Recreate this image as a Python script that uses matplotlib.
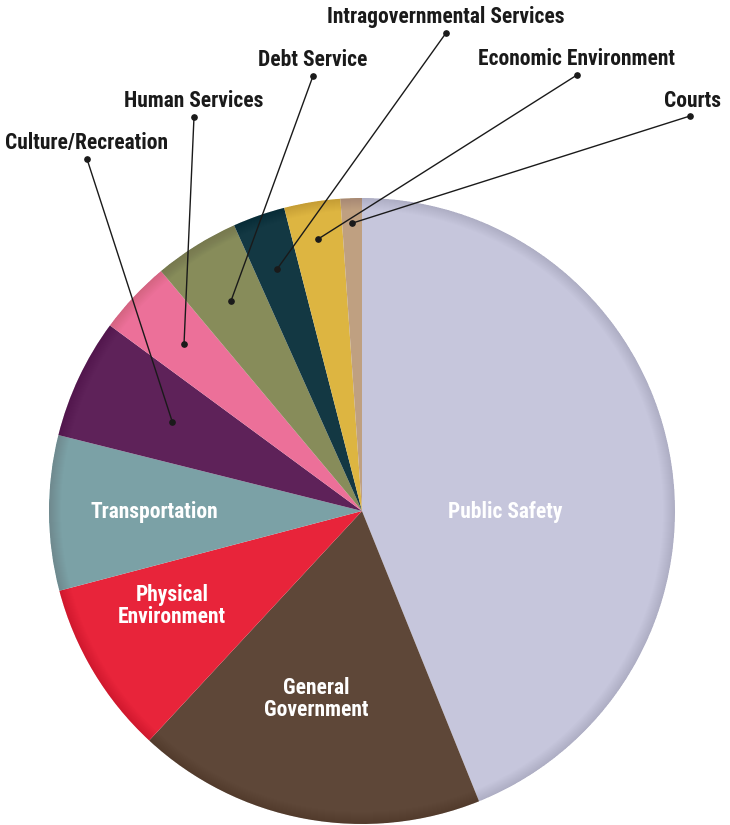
import matplotlib.pyplot as plt
import numpy as np
from matplotlib.patches import Wedge

plt.rcParams['font.family'] = ['Roboto Condensed', 'DejaVu Sans']

# Data (shares of spending, clockwise from 12 o'clock)
categories = ["Public Safety", "General Government", "Physical Environment", "Transportation",
              "Culture/Recreation", "Human Services", "Debt Service",
              "Intragovernmental Services", "Economic Environment", "Courts"]
shares = [43.9, 18.0, 9.0, 8.0, 6.2, 3.8, 4.4, 2.7, 2.9, 1.1]
colors = ["#C6C6DC", "#5E4738", "#E8243A", "#7BA1A6", "#5E2259",
          "#EC7099", "#878C5A", "#133843", "#DDB541", "#BFA081"]

# inside labels
inner_labels = {"Public Safety": "Public Safety",
                "General Government": "General\nGovernment",
                "Physical Environment": "Physical\nEnvironment",
                "Transportation": "Transportation"}

# outside labels: text position, radius fraction of the dot inside the slice
outer_labels = {"Culture/Recreation": ((87, 143), 0.67),
                "Human Services": ((194, 101), 0.78),
                "Debt Service": ((313, 60), 0.79),
                "Intragovernmental Services": ((446, 17), 0.82),
                "Economic Environment": ((577, 59), 0.88),
                "Courts": ((721, 101), 0.92)}

W, H = 730, 825
fig = plt.figure(figsize=(W / 100, H / 100), dpi=100)
ax = fig.add_axes([0, 0, 1, 1])

cx, cy, R = 362, H - 511, 313

wedges, _ = ax.pie(shares, colors=colors, startangle=90, counterclock=False,
                   center=(cx, cy), radius=R, frame=True,
                   wedgeprops=dict(linewidth=0))
ax.set_xlim(0, W)
ax.set_ylim(0, H)
ax.set_aspect("equal")
ax.axis("off")

# soft darkening toward the rim
for d in range(1, 13):
    ax.add_patch(Wedge((cx, cy), R, 0, 360, width=d, facecolor="black",
                       alpha=0.006, linewidth=0))

inner_pos = {"Public Safety": (505, 512), "General Government": (316, 699),
             "Physical Environment": (172, 606), "Transportation": (154, 512)}
for name, txt in inner_labels.items():
    x, y = inner_pos[name]
    ax.text(x, H - y, txt, ha="center", va="center", color="white",
            fontsize=15.5, fontweight="bold", linespacing=0.95)

for name, ((tx, ty), frac) in outer_labels.items():
    w = wedges[categories.index(name)]
    mid = np.deg2rad((w.theta1 + w.theta2) / 2)
    px, py = cx + frac * R * np.cos(mid), cy + frac * R * np.sin(mid)
    if name == "Courts":
        ax.text(tx, H - ty, name, ha="right", va="center", fontsize=15.5,
                fontweight="bold", color="#1a1a1a")
        ex, ey = tx - 31, H - ty - 15
    else:
        ax.text(tx, H - ty, name, ha="center", va="center", fontsize=15.5,
                fontweight="bold", color="#1a1a1a")
        ex, ey = tx, H - ty - 16
    ax.plot([ex, px], [ey, py], color="#1a1a1a", linewidth=1.0)
    ax.plot([ex, px], [ey, py], "o", color="#1a1a1a", markersize=3.8)

fig.savefig("out.png", dpi=100)
